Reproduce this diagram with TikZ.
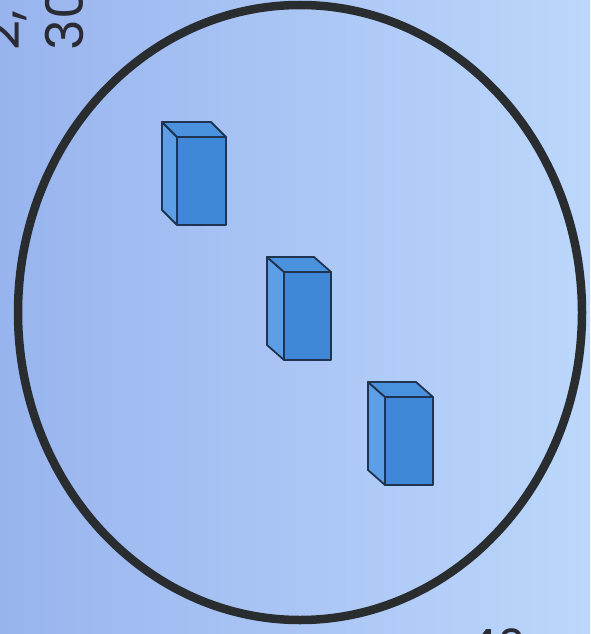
\documentclass[tikz,border=0pt]{standalone}
\usepackage{fontspec}
\setmainfont{Poppins}
\definecolor{bgl}{HTML}{98B4EE}
\definecolor{bgr}{HTML}{BCD7FB}
\definecolor{ringc}{HTML}{2A2D30}
\definecolor{boxfront}{HTML}{3F88D8}
\definecolor{boxtop}{HTML}{4A92DE}
\definecolor{boxside}{HTML}{5C9FE6}
\definecolor{boxline}{HTML}{1E3450}
\definecolor{txt}{HTML}{2B2B35}
\tikzset{
  ring/.style={draw=ringc, line width=8.5pt},
  boxedge/.style={draw=boxline, line width=1.8pt, line join=round},
  sidetext/.style={text=txt, font=\fontsize{52}{52}\selectfont, inner sep=0pt, rotate=90},
  cornertext/.style={text=txt, font=\fontsize{46}{46}\selectfont, inner sep=0pt},
  pics/prism/.style n args={4}{code={
    % #1 width, #2 height, #3 dx, #4 dy ; origin = front top-left
    \fill[boxside, boxedge] (0,0) -- (-#3,-#4) -- (-#3,#2-#4) -- (0,#2) -- cycle;
    \fill[boxtop, boxedge] (0,0) -- (-#3,-#4) -- (#1-#3,-#4) -- (#1,0) -- cycle;
    \fill[boxfront, boxedge] (0,0) rectangle (#1,#2);
  }}
}
\begin{document}
\begin{tikzpicture}[x=1pt,y=-1pt]
\useasboundingbox (0,0) rectangle (590,634);
\shade[left color=bgl, right color=bgr] (0,0) rectangle (590,634);
\clip (0,0) rectangle (590,634);
\coordinate (c) at (300,312.5);
\draw[ring] (c) ellipse [x radius=282, y radius=307.5];
\pic at (177,137) {prism={49}{88}{15}{15}};
\pic at (284,272) {prism={47}{88}{17}{15}};
\pic at (385,397) {prism={48}{88}{17}{15}};
\node[sidetext, anchor=base east] (l1) at (19,10) {2,};
\node[sidetext, anchor=base east] (l2) at (83,-13) {30};
\node[cornertext, anchor=north east] (l3) at (527,629) {40};
\end{tikzpicture}
\end{document}
